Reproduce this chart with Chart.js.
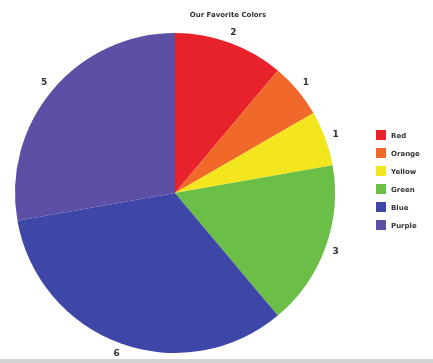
<!DOCTYPE html>
<html>
<head>
<meta charset="utf-8">
<script src="https://cdn.jsdelivr.net/npm/chart.js@4"></script>
<style>
  html, body { margin: 0; padding: 0; background: #ffffff; }
  #wrap { position: relative; width: 433px; height: 363px; }
  #strip { position: absolute; left: 0; bottom: 0; width: 433px; height: 4px; background: #d4d4d4; }
</style>
</head>
<body>
<div id="wrap">
  <canvas id="myChart" width="433" height="363"></canvas>
  <div id="strip"></div>
</div>
<script>
const title = "Our Favorite Colors";

const labels = ["Red", "Orange", "Yellow", "Green", "Blue", "Purple"];

const votes = [2, 1, 1, 3, 6, 5];

const colors = [
    "#e8222b",
    "#f0682a",
    "#f3e61e",
    "#6bbf47",
    "#3e46a8",
    "#5c4fa6",
];

// title, outside value labels and the legend on the right
const extras = {
    id: "extras",
    afterDraw(chart) {
        const c = chart.ctx;
        const arc = chart.getDatasetMeta(0).data;
        c.save();
        c.fillStyle = "#333333";
        c.textAlign = "center";
        c.textBaseline = "middle";
        c.font = "bold 7px 'DejaVu Sans'";
        c.fillText(title, 228, 15);

        c.font = "bold 9px 'DejaVu Sans'";
        arc.forEach((a, i) => {
            const mid = (a.startAngle + a.endAngle) / 2;
            const r = a.outerRadius + 11;
            c.fillText(String(votes[i]), a.x + Math.cos(mid) * r, a.y + Math.sin(mid) * r);
        });

        c.textAlign = "left";
        c.font = "bold 7px 'DejaVu Sans'";
        labels.forEach((lab, i) => {
            const y = 135 + i * 18;
            c.fillStyle = colors[i];
            c.fillRect(376, y - 5, 10, 10);
            c.fillStyle = "#333333";
            c.fillText(lab, 391, y + 1);
        });
        c.restore();
    },
};

const ctx = document.getElementById("myChart").getContext("2d");

const myChart = new Chart(ctx, {
    type: "pie",
    data: {
        labels,
        datasets: [
            {
                data: votes,
                backgroundColor: colors,
                borderWidth: 0,
            },
        ],
    },
    options: {
        responsive: false,
        animation: false,
        layout: {
            padding: { left: 15, right: 98, top: 33, bottom: 10 },
        },
        plugins: {
            legend: { display: false },
            title: { display: false },
            tooltip: { enabled: false },
        },
    },
    plugins: [extras],
});
</script>
</body>
</html>
